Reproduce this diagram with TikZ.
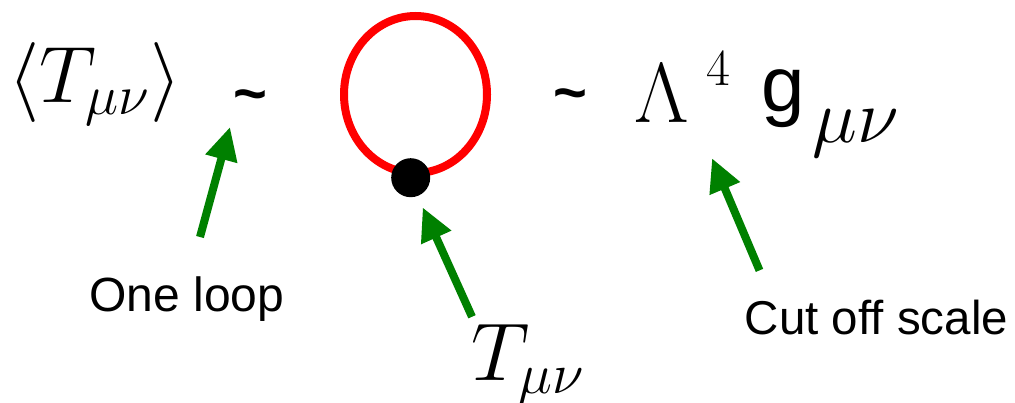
\RequirePackage{fix-cm}
\documentclass[tikz,border=0pt]{standalone}
\usepackage{fontspec}
\usepackage{tikz}
\usetikzlibrary{shapes.geometric, arrows.meta, positioning, calc}
\usepackage{xcolor}
\definecolor{LoopRed}{HTML}{FF0000}
\definecolor{PointerGreen}{HTML}{008000}
\definecolor{InkBlack}{HTML}{000000}
\newfontfamily\labelfont{Liberation Sans}
\tikzset{
    % Text styles - math in Latin Modern, words in sans
    bigmath/.style={
        inner sep=0pt,
        anchor=base,
        font=\fontsize{80}{96}\selectfont
    },
    sansword/.style={
        inner sep=0pt,
        anchor=base,
        font=\labelfont\fontsize{48}{58}\selectfont
    },
    tildesign/.style={
        inner sep=0pt,
        anchor=base,
        font=\labelfont\bfseries\fontsize{58}{68}\selectfont
    },
    % Diagram styles
    loopline/.style={
        ellipse,
        draw=LoopRed,
        line width=8pt,
        inner sep=0pt,
        minimum width=143pt,
        minimum height=157pt
    },
    vertexdot/.style={
        circle,
        fill=InkBlack,
        inner sep=0pt,
        minimum size=39pt
    },
    % Arrow style - straight lines only
    pointer/.style={
        -{Triangle[length=33pt,width=31pt]},
        line width=8pt,
        draw=PointerGreen,
        fill=PointerGreen
    }
}
\begin{document}
\begin{tikzpicture}[x=1pt, y=-1pt]
    \useasboundingbox (0,0) rectangle (1015,403);

    % top line of the formula
    \node[bigmath] (vev) at (95,103) {$\langle T_{\mu\nu}\rangle$};
    \node[tildesign] (simA) at (250,114) {\char`\~};
    \node[loopline] (loop) at (415.5,94.5) {};
    \node[vertexdot] (vertex) at (410.7,177.7) {};
    \node[tildesign] (simB) at (570,113) {\char`\~};
    \node[bigmath, font=\fontsize{85}{100}\selectfont] (lam) at (662,123) {$\Lambda$};
    \node[bigmath, font=\fontsize{52}{60}\selectfont] (four) at (718,86) {4};
    \node[sansword, font=\labelfont\fontsize{78}{94}\selectfont] (gee) at (783.5,112) {g};
    \node[bigmath, font=\fontsize{76}{90}\selectfont] (munu) at (856,143) {$\mu\nu$};

    % labels underneath
    \node[sansword] (oneloop) at (187,312) {One loop};
    \node[bigmath, font=\fontsize{82}{98}\selectfont] (tvertex) at (528,381) {$T_{\mu\nu}$};
    \node[sansword, font=\labelfont\fontsize{47.5}{57}\selectfont] (cutoff) at (876.5,335) {Cut off scale};

    \draw[pointer] ([shift={(13,-40)}]oneloop.north) -- ([shift={(-20,13)}]simA.base);
    \draw[pointer] ([shift={(-56,-8)}]tvertex.north) -- ([shift={(12,10)}]vertex.south);
    \draw[pointer] ([shift={(-117,-30)}]cutoff.north) -- ([shift={(-6,72)}]four.south);
\end{tikzpicture}
\end{document}
